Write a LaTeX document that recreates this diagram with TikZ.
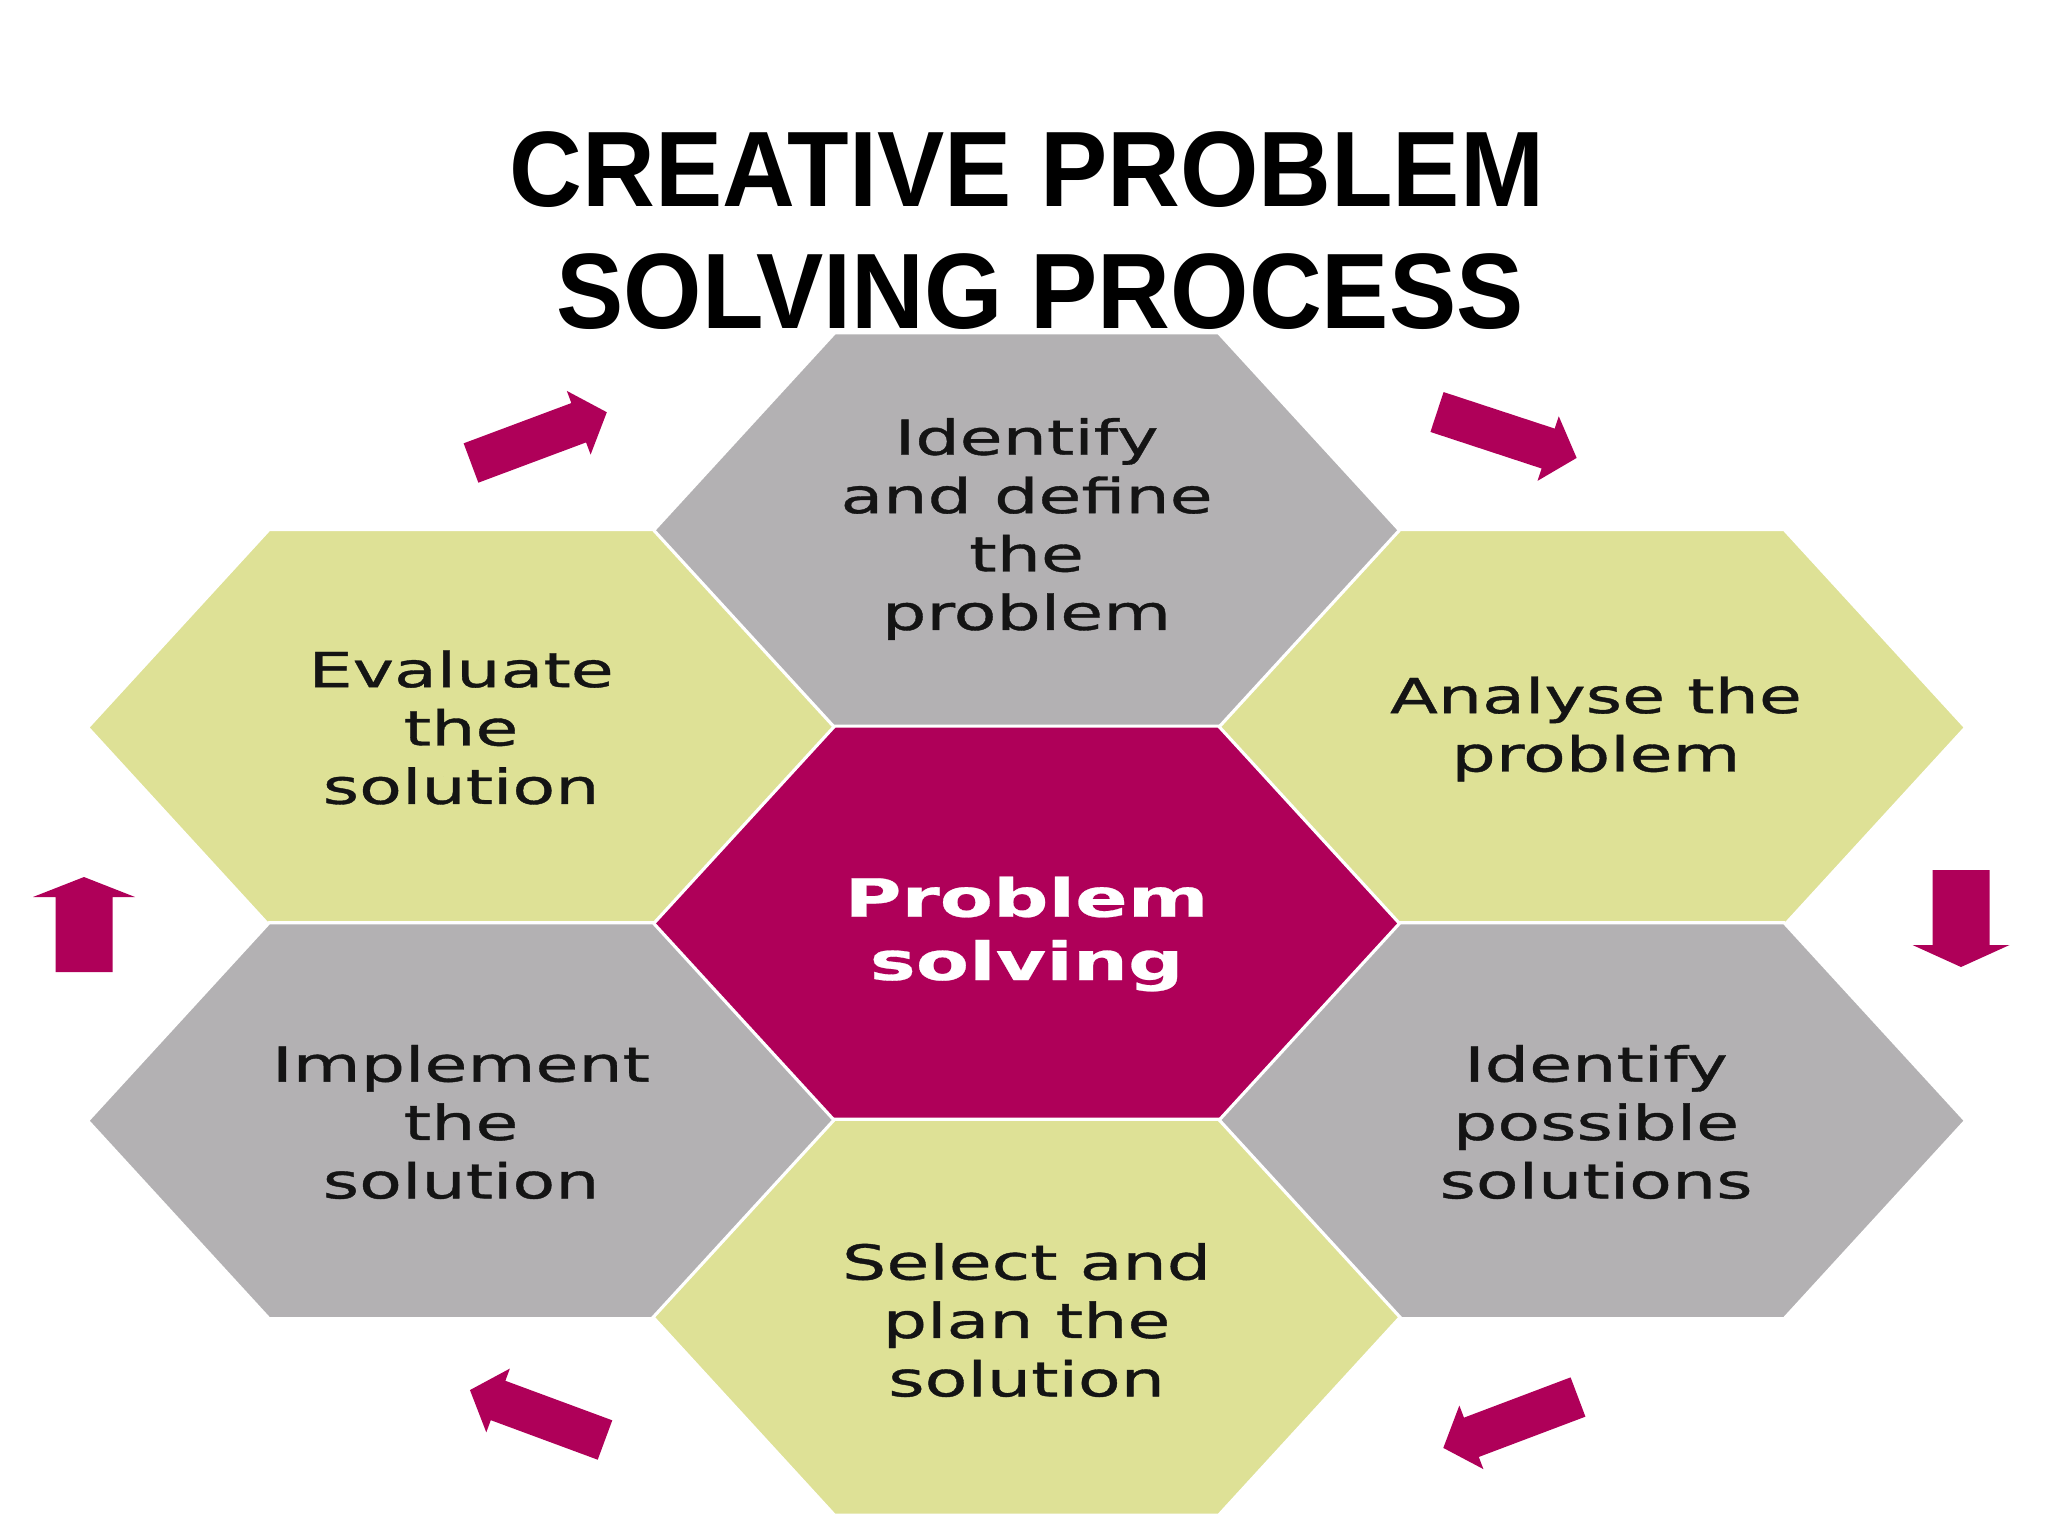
\documentclass[tikz,border=0pt]{standalone}
\usepackage{fontspec}
\setmainfont{Liberation Sans}
\newfontfamily\titlefont[FakeStretch=0.94]{Liberation Sans}
\newfontfamily\hexfont[FakeStretch=1.45,FakeBold=0.8]{DejaVu Sans}
\newfontfamily\cenfont[FakeStretch=1.47,FakeBold=0.5]{DejaVu Sans Bold}
\definecolor{hexgray}{HTML}{B3B1B3}
\definecolor{hexgreen}{HTML}{DEE196}
\definecolor{hexmag}{HTML}{AF0059}
\definecolor{txtdark}{HTML}{141414}
\newcommand\drawhex[3]{%
  \filldraw[hexfill=#3, shift={(#1,#2)}] (-373.5,0) -- (-192,-198) -- (192,-198) -- (373.5,0) -- (192,198) -- (-192,198) -- cycle;}
\newcommand\blockarrow[7]{%
  \fill[arrowfill, shift={(#1,#2)}, rotate=#3] (0,-#5) -- (#4-#7,-#5) -- (#4-#7,-#6) -- (#4,0) -- (#4-#7,#6) -- (#4-#7,#5) -- (0,#5) -- cycle;}
\begin{document}
\begin{tikzpicture}[x=0.01cm,y=-0.01cm,
  hexfill/.style={fill=#1, draw=white, line width=0.9pt},
  hextext/.style={align=center, text=txtdark, font=\hexfont\fontsize{13.7}{16.6}\selectfont, inner sep=0pt},
  centext/.style={align=center, text=white, font=\cenfont\fontsize{15}{18}\selectfont, inner sep=0pt},
  titletext/.style={font=\titlefont\bfseries\fontsize{30.5}{34.4}\selectfont, anchor=base, inner sep=0pt},
  arrowfill/.style={fill=hexmag}]
\useasboundingbox (0,0) rectangle (2048,1536);
\fill[white] (0,0) rectangle (2048,1536);

% hexagons
\drawhex{1026.6}{530.9}{hexgray}
\drawhex{461.1}{727.5}{hexgreen}
\drawhex{1592.1}{727.5}{hexgreen}
\drawhex{1026.6}{924.1}{hexmag}
\drawhex{461.1}{1120.7}{hexgray}
\drawhex{1592.1}{1120.7}{hexgray}
\drawhex{1026.6}{1317.3}{hexgreen}

% texts
\node[hextext] (identify) at (1026.6,529) {Identify\\and define\\the\\problem};
\node[hextext] (evaluate) at (461.1,727.5) {Evaluate\\the\\solution};
\node[hextext] (analyse) at (1596,729) {Analyse the\\problem};
\node[centext] (center) at (1026.6,934) {Problem\\solving};
\node[hextext] (implement) at (461.1,1122) {Implement\\the\\solution};
\node[hextext] (possible) at (1596,1122) {Identify\\possible\\solutions};
\node[hextext] (select) at (1026.6,1320) {Select and\\plan the\\solution};

% arrows
\blockarrow{471}{463}{20.5}{145}{21}{34}{30}
\blockarrow{1437}{412}{-18.2}{147}{21}{34}{30}
\blockarrow{1961}{870}{-90}{97}{28.5}{48.5}{22}
\blockarrow{84}{972}{90}{95}{28.5}{51}{20}
\blockarrow{605}{1440}{159.7}{144}{21}{34}{30}
\blockarrow{1578}{1397}{200.7}{144}{21}{34}{30}

% title
\node[titletext] (title1) at (1027,206) {CREATIVE PROBLEM};
\node[titletext] (title2) at (1040,328) {SOLVING PROCESS};
\end{tikzpicture}
\end{document}
